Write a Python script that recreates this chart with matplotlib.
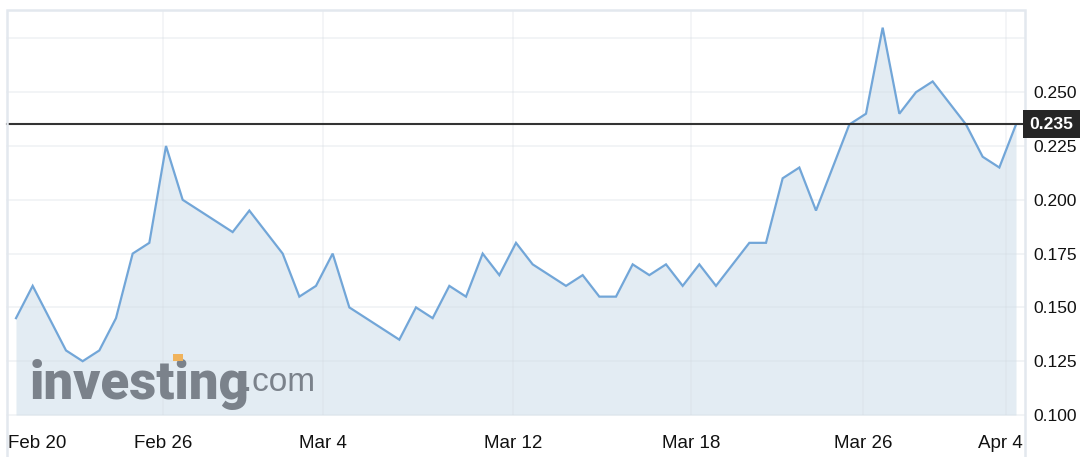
import matplotlib
matplotlib.use("Agg")
import matplotlib.pyplot as plt
from matplotlib.patches import Rectangle

# ---- data ----
prices = [0.145, 0.160, 0.145, 0.130, 0.125, 0.130, 0.145, 0.175, 0.180, 0.225,
          0.200, 0.195, 0.190, 0.185, 0.195, 0.185, 0.175, 0.155, 0.160, 0.175,
          0.150, 0.145, 0.140, 0.135, 0.150, 0.145, 0.160, 0.155, 0.175, 0.165,
          0.180, 0.170, 0.165, 0.160, 0.165, 0.155, 0.155, 0.170, 0.165, 0.170,
          0.160, 0.170, 0.160, 0.170, 0.180, 0.180, 0.210, 0.215, 0.195, 0.215,
          0.235, 0.240, 0.280, 0.240, 0.250, 0.255, 0.245, 0.235, 0.220, 0.215,
          0.235]
x_labels = ["Feb 20", "Feb 26", "Mar 4", "Mar 12", "Mar 18", "Mar 26", "Apr 4"]
x_label_pos = [1.26, 8.82, 18.42, 29.82, 40.5, 50.82, 59.07]
x_grid_pos = [8.82, 18.42, 29.82, 40.5, 50.82, 59.4]
y_ticks = [0.100, 0.125, 0.150, 0.175, 0.200, 0.225, 0.250, 0.275]
y_labels = ["0.100", "0.125", "0.150", "0.175", "0.200", "0.225", "0.250", ""]
last_price = 0.235

W, H = 1080, 457
fig = plt.figure(figsize=(W / 100, H / 100), dpi=100)
plt.rcParams['font.family'] = ['Liberation Sans', 'DejaVu Sans']

L, R, T, B = 7, 1025, 10, 415
ax = fig.add_axes([L / W, 1 - B / H, (R - L) / W, (B - T) / H])
ax.set_xlim(-0.54, 60.54)
ax.set_ylim(0.100, 0.2882)

xs = list(range(len(prices)))
ax.fill_between(xs, prices, 0.100, color="#e3ecf3", lw=0, zorder=1)
ax.plot(xs, prices, color="#72a6d8", lw=1.6, zorder=3, solid_joinstyle="miter")

# grid (very faint)
for yv in y_ticks:
    ax.axhline(yv, color="#d5dbe2", alpha=0.35, lw=1.2, zorder=1.5, clip_on=False)
for xv in x_grid_pos:
    ax.axvline(xv, color="#d5dbe2", alpha=0.3, lw=1.2, zorder=1.5)

# last price line
ax.axhline(last_price, color="#333333", lw=1.5, zorder=4, clip_on=False)

for s in ax.spines.values():
    s.set_visible(False)
ax.set_facecolor("none")

ax.yaxis.tick_right()
ax.set_yticks(y_ticks)
ax.set_yticklabels(y_labels, fontsize=12.5, color="#111111")
ax.tick_params(axis="y", length=0, pad=6)

ax.set_xticks([])
for lab, xp in zip(x_labels, x_label_pos):
    ax.text(xp, -28 / (B - T), lab, transform=ax.get_xaxis_transform(),
            fontsize=13.5, color="#111111", ha="center", va="center")

# frame around chart + labels
fig.patches.append(Rectangle((L / W, -0.05), (R - L) / W, 1 - T / H + 0.05,
                             transform=fig.transFigure, fill=False,
                             edgecolor="#e3e8ee", lw=1.8, zorder=0))

# last price box
ybox = ax.transData.transform((0, last_price))[1] / H
fig.patches.append(Rectangle((1023 / W, ybox - 14 / H), 57 / W, 28 / H,
                             transform=fig.transFigure, facecolor="#262626",
                             edgecolor="none", zorder=5))
fig.text(1051 / W, ybox, f"{last_price:.3f}", color="white", fontsize=12.6,
         fontweight="bold", ha="center", va="center", zorder=6)

# watermark
fig.text(30 / W, 1 - 399 / H, "investing", fontsize=38, fontweight=900,
         family=["Roboto", "Liberation Sans"],
         color="#7b828b", ha="left", va="baseline", zorder=2)
fig.text(243 / W, 1 - 391 / H, ".com", fontsize=24, color="#7b828b",
         family=["Liberation Sans"],
         ha="left", va="baseline", zorder=2)
fig.patches.append(Rectangle((173 / W, 1 - 361 / H), 10 / W, 7 / H,
                             transform=fig.transFigure, facecolor="#f0b35c",
                             edgecolor="none", zorder=3))

fig.savefig("out.png", dpi=100)
